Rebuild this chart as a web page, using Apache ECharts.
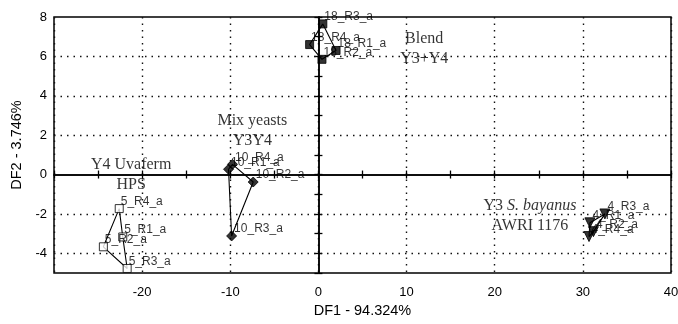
<!DOCTYPE html>
<html>
<head>
<meta charset="utf-8">
<script src="https://cdn.jsdelivr.net/npm/echarts@6/dist/echarts.min.js"></script>
<style>
  html, body { margin: 0; padding: 0; background: #fff; }
  #chart { width: 678px; height: 324px; }
</style>
</head>
<body>
<div id="chart"></div>
<script>
// Y4 Uvaferm HPS (open squares)
const uvaNames = ['5_R4_a', '5_R2_a', '5_R3_a', '5_R1_a']
const uvaDF1 = [-22.6, -24.4, -21.7, -22.2]
const uvaDF2 = [-1.73, -3.67, -4.77, -3.17]

// Mix yeasts Y3Y4 (diamonds)
const mixNames = ['10_R1_a', '10_R3_a', '10_R2_a', '10_R4_a']
const mixDF1 = [-10.2, -9.85, -7.4, -9.75]
const mixDF2 = [0.27, -3.12, -0.38, 0.52]

// Blend Y3+Y4 (filled squares)
const blendNames = ['18_R3_a', '18_R4_a', '18_R2_a', '18_R1_a']
const blendDF1 = [0.5, -1.0, 0.4, 2.0]
const blendDF2 = [7.65, 6.6, 5.85, 6.3]

// Y3 S. bayanus AWRI 1176 (triangles)
const bayNames = ['4_R3_a', '4_R1_a', '4_R4_a', '4_R2_a']
const bayDF1 = [32.5, 30.8, 30.7, 31.2]
const bayDF2 = [-2.0, -2.45, -3.15, -2.9]

// group captions
const captionText = [
  '{n|Y4 Uvaferm}\n{n|HPS}',
  '{n|Mix yeasts}\n{n|Y3Y4}',
  '{n|Blend}\n{n|Y3+Y4}',
  '{n|Y3 }{i|S. bayanus}\n{n|AWRI 1176}'
]
const captionDF1 = [-21.25, -7.5, 12.0, 24.0]
const captionDF2 = [0.0, 2.22, 6.41, -2.07]

const gridY = [-4, -2, 2, 4, 6]

const chart = echarts.init(document.getElementById('chart'))

const sans = 'Liberation Sans, Arial, sans-serif'
const serif = 'Liberation Serif, Times New Roman, serif'
const dotted = { color: '#111', width: 1.4, type: [1.5, 5] }

function toPoints (names, xs, ys) {
  return names.map((n, i) => ({ name: n, value: [xs[i], ys[i]] }))
}

// 一组样本：连线 + 散点
function group (names, xs, ys, symbol, fill, rotate) {
  const pts = toPoints(names, xs, ys)
  return [
    {
      type: 'line',
      data: pts.concat([pts[0]]).map(p => p.value),
      symbol: 'none',
      silent: true,
      z: 3,
      lineStyle: { color: '#000', width: 1.1 }
    },
    {
      type: 'scatter',
      data: pts,
      symbol: symbol,
      symbolSize: symbol === 'diamond' ? 10 : (symbol === 'triangle' ? 10 : 8),
      symbolRotate: rotate || 0,
      z: 4,
      itemStyle: { color: fill, borderColor: '#000', borderWidth: 1 },
      label: {
        show: true,
        position: 'right',
        distance: 0,
        offset: [-3, -7],
        formatter: '{b}',
        color: '#000',
        fontFamily: sans,
        fontSize: 12
      }
    }
  ]
}

// 零线上的小刻度
const zeroTickX = (inside) => ({
  type: 'value', min: -30, max: 40, interval: 5, position: 'bottom',
  axisLine: { show: true, onZero: true, lineStyle: { color: '#000', width: 1.5 } },
  axisTick: { show: true, inside: inside, length: 4, lineStyle: { color: '#000', width: 1.3 } },
  axisLabel: { show: false },
  splitLine: { show: false }
})
const zeroTickY = (inside) => ({
  type: 'value', min: -5, max: 8, interval: 1, position: 'left',
  axisLine: { show: true, onZero: true, lineStyle: { color: '#000', width: 1.5 } },
  axisTick: { show: true, inside: inside, length: 4, lineStyle: { color: '#000', width: 1.3 } },
  axisLabel: { show: false },
  splitLine: { show: false }
})

const option = {
  animation: false,
  backgroundColor: '#fff',
  grid: {
    left: 54, right: 7, top: 17, bottom: 51,
    outerBoundsMode: 'none',
    containLabel: false,
    show: true,
    borderColor: '#000',
    borderWidth: 1.5
  },
  xAxis: [
    {
      type: 'value', min: -30, max: 40, interval: 10, position: 'bottom',
      name: 'DF1 - 94.324%',
      nameLocation: 'middle',
      nameGap: 30,
      nameTextStyle: { fontFamily: sans, fontSize: 14.5, color: '#000' },
      axisLine: { show: false, onZero: false },
      axisTick: { show: false },
      axisLabel: {
        margin: 13, fontFamily: sans, fontSize: 13, color: '#000',
        formatter: v => (v === -30 ? '' : String(v))
      },
      splitLine: { show: true, lineStyle: dotted }
    },
    zeroTickX(false),
    zeroTickX(true)
  ],
  yAxis: [
    {
      type: 'value', min: -5, max: 8, interval: 1, position: 'left',
      name: 'DF2 - 3.746%',
      nameLocation: 'middle',
      nameGap: 21,
      nameTextStyle: { fontFamily: sans, fontSize: 14.5, color: '#000' },
      axisLine: { show: false, onZero: false },
      axisTick: { show: false },
      axisLabel: {
        margin: 7, fontFamily: sans, fontSize: 13, color: '#000',
        formatter: v => (v % 2 === 0 ? String(v) : '')
      },
      splitLine: { show: false }
    },
    zeroTickY(false),
    zeroTickY(true)
  ],
  series: [
    {
      type: 'line',
      data: [],
      silent: true,
      markLine: {
        silent: true,
        symbol: 'none',
        label: { show: false },
        lineStyle: dotted,
        data: gridY.map(v => ({ yAxis: v }))
      }
    },
    ...group(uvaNames, uvaDF1, uvaDF2, 'rect', '#fff'),
    ...group(mixNames, mixDF1, mixDF2, 'diamond', '#000'),
    ...group(blendNames, blendDF1, blendDF2, 'rect', '#000'),
    ...group(bayNames, bayDF1, bayDF2, 'triangle', '#000', 180),
    {
      type: 'scatter',
      symbolSize: 0,
      silent: true,
      z: 5,
      data: captionText.map((t, i) => ({ value: [captionDF1[i], captionDF2[i]], text: t })),
      label: {
        show: true,
        position: 'inside',
        align: 'center',
        verticalAlign: 'middle',
        formatter: p => p.data.text,
        rich: {
          n: { fontFamily: serif, fontSize: 16, color: '#000', lineHeight: 20, align: 'center' },
          i: { fontFamily: serif, fontSize: 16, fontStyle: 'italic', color: '#000', lineHeight: 20, align: 'center' }
        }
      }
    }
  ]
}

chart.setOption(option)
</script>
</body>
</html>
